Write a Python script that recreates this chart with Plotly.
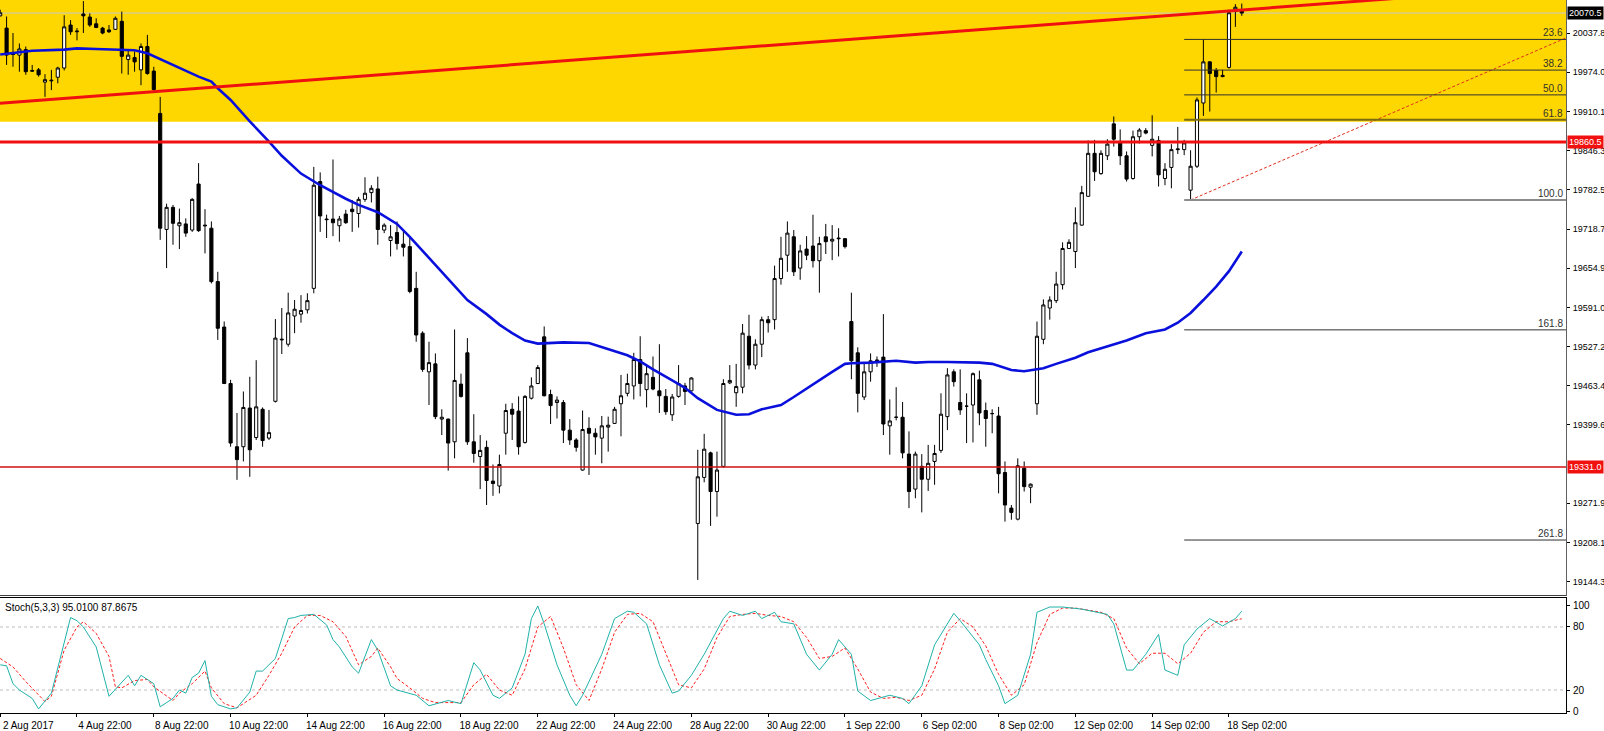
import plotly.graph_objects as go

# ---------------- data (H4 bars, index 0..194) ----------------
OPEN = [20066, 20046, 20005, 20002, 20011, 19977, 19978, 19958, 19960, 19966,
        19981, 20051, 20040, 20069, 20064, 20053, 20046, 20043, 20044, 20057,
        19995, 19998, 19978, 20016, 19976, 19907, 19718, 19754, 19724, 19727,
        19717, 19792, 19725, 19720, 19633, 19559, 19467, 19364, 19364, 19427,
        19379, 19425, 19378, 19438, 19538, 19531, 19577, 19580, 19587, 19622,
        19796, 19735, 19735, 19724, 19743, 19751, 19744, 19767, 19778, 19784,
        19717, 19700, 19713, 19694, 19690, 19622, 19549, 19486, 19499, 19409,
        19409, 19372, 19466, 19517, 19372, 19348, 19363, 19308, 19300, 19386,
        19425, 19422, 19371, 19443, 19467, 19543, 19449, 19436, 19436, 19391,
        19375, 19326, 19394, 19386, 19378, 19396, 19402, 19434, 19451, 19463,
        19506, 19457, 19477, 19455, 19446, 19416, 19446, 19463, 19455, 19239,
        19314, 19354, 19291, 19332, 19468, 19452, 19461, 19544, 19497, 19531,
        19571, 19571, 19638, 19676, 19706, 19655, 19686, 19691, 19667, 19706,
        19699, 19704, 19703, 19568, 19517, 19445, 19486, 19504, 19510, 19398,
        19412, 19412, 19352, 19295, 19332, 19311, 19340, 19358, 19413, 19486,
        19436, 19430, 19432, 19473, 19423, 19418, 19414, 19322, 19264, 19246,
        19329, 19298, 19434, 19539, 19590, 19602, 19628, 19687, 19682, 19725,
        19772, 19842, 19809, 19838, 19890, 19861, 19838, 19801, 19869, 19879,
        19855, 19863, 19801, 19819, 19848, 19848, 19782, 19821, 19924, 19991,
        19977, 19969, 19982, 20073, 20075]
HIGH = [20076, 20065, 20038, 20021, 20016, 19986, 19981, 19971, 19978, 19983,
        20067, 20059, 20046, 20090, 20070, 20062, 20048, 20051, 20065, 20073,
        20010, 20008, 20021, 20035, 19983, 19934, 19760, 19758, 19752, 19736,
        19769, 19826, 19751, 19731, 19649, 19568, 19473, 19419, 19454, 19478,
        19505, 19428, 19424, 19572, 19590, 19615, 19603, 19611, 19614, 19820,
        19811, 19742, 19832, 19740, 19750, 19766, 19771, 19803, 19790, 19804,
        19728, 19725, 19731, 19717, 19706, 19649, 19552, 19535, 19516, 19425,
        19410, 19555, 19483, 19541, 19417, 19383, 19374, 19335, 19351, 19434,
        19435, 19446, 19448, 19477, 19497, 19560, 19457, 19446, 19440, 19409,
        19378, 19423, 19412, 19394, 19414, 19413, 19429, 19481, 19483, 19517,
        19544, 19497, 19511, 19531, 19458, 19450, 19497, 19468, 19477, 19359,
        19385, 19356, 19356, 19474, 19497, 19499, 19564, 19579, 19539, 19576,
        19577, 19659, 19706, 19731, 19717, 19693, 19707, 19742, 19706, 19727,
        19725, 19720, 19704, 19615, 19526, 19501, 19516, 19511, 19580, 19441,
        19461, 19437, 19389, 19356, 19352, 19367, 19367, 19451, 19492, 19490,
        19490, 19451, 19485, 19488, 19436, 19425, 19429, 19340, 19269, 19345,
        19340, 19304, 19568, 19604, 19609, 19649, 19697, 19702, 19754, 19789,
        19863, 19864, 19847, 19865, 19902, 19881, 19845, 19879, 19883, 19883,
        19904, 19870, 19826, 19857, 19885, 19864, 19847, 19933, 20028, 19992,
        19981, 19978, 20076, 20085, 20086]
LOW = [20065, 19986, 19983, 19975, 19970, 19975, 19967, 19934, 19945, 19956,
       19977, 20035, 20026, 20038, 20048, 20046, 20036, 20038, 20043, 19972,
       19970, 19975, 19953, 19970, 19943, 19701, 19655, 19693, 19686, 19706,
       19714, 19714, 19679, 19630, 19538, 19466, 19364, 19310, 19340, 19315,
       19375, 19364, 19375, 19436, 19515, 19527, 19549, 19566, 19581, 19614,
       19714, 19704, 19707, 19698, 19727, 19714, 19721, 19763, 19762, 19693,
       19712, 19674, 19685, 19674, 19614, 19535, 19486, 19432, 19409, 19383,
       19325, 19345, 19444, 19367, 19338, 19295, 19269, 19284, 19288, 19351,
       19375, 19351, 19369, 19441, 19466, 19446, 19401, 19410, 19370, 19367,
       19356, 19325, 19318, 19351, 19337, 19356, 19401, 19381, 19446, 19441,
       19446, 19428, 19456, 19419, 19416, 19406, 19444, 19432, 19454, 19147,
       19306, 19235, 19250, 19330, 19466, 19429, 19451, 19490, 19490, 19510,
       19550, 19555, 19628, 19649, 19642, 19636, 19668, 19656, 19615, 19678,
       19668, 19674, 19687, 19474, 19420, 19440, 19470, 19494, 19383, 19351,
       19407, 19345, 19264, 19280, 19257, 19292, 19302, 19354, 19391, 19462,
       19416, 19370, 19371, 19399, 19364, 19386, 19288, 19242, 19245, 19244,
       19291, 19272, 19416, 19531, 19571, 19598, 19620, 19686, 19655, 19724,
       19771, 19797, 19807, 19831, 19853, 19823, 19796, 19799, 19858, 19873,
       19837, 19788, 19790, 19785, 19841, 19839, 19767, 19818, 19903, 19910,
       19941, 19966, 19980, 20048, 20066]
CLOSE = [20071, 20002, 20003, 20012, 19975, 19976, 19970, 19962, 19961, 19981,
         20048, 20040, 20041, 20066, 20051, 20047, 20038, 20040, 20062, 20000,
         20002, 19991, 20016, 19972, 19946, 19720, 19754, 19728, 19729, 19712,
         19767, 19716, 19724, 19633, 19557, 19467, 19370, 19343, 19428, 19359,
         19429, 19374, 19387, 19541, 19539, 19582, 19588, 19586, 19602, 19790,
         19740, 19734, 19729, 19735, 19729, 19747, 19767, 19777, 19785, 19718,
         19725, 19706, 19695, 19689, 19617, 19546, 19490, 19501, 19413, 19412,
         19370, 19472, 19446, 19372, 19353, 19358, 19309, 19304, 19335, 19423,
         19417, 19364, 19446, 19463, 19493, 19447, 19431, 19440, 19391, 19375,
         19363, 19392, 19386, 19380, 19398, 19399, 19425, 19447, 19467, 19506,
         19467, 19483, 19458, 19447, 19421, 19445, 19467, 19454, 19476, 19315,
         19360, 19291, 19326, 19467, 19472, 19462, 19549, 19497, 19531, 19571,
         19566, 19638, 19671, 19712, 19649, 19683, 19676, 19667, 19695, 19698,
         19702, 19703, 19690, 19504, 19451, 19486, 19504, 19505, 19401, 19406,
         19412, 19354, 19291, 19352, 19311, 19337, 19353, 19417, 19481, 19470,
         19424, 19430, 19483, 19419, 19410, 19418, 19320, 19269, 19257, 19333,
         19299, 19303, 19544, 19595, 19603, 19629, 19687, 19697, 19729, 19778,
         19842, 19812, 19842, 19857, 19865, 19838, 19800, 19869, 19880, 19875,
         19865, 19807, 19816, 19848, 19849, 19859, 19821, 19929, 19991, 19972,
         19967, 19967, 20071, 20080, 20070.5]

# blue moving average, read at these bars
MA_BAR = [0, 2, 5, 10, 12, 15, 19, 21, 23, 27, 31, 33, 34, 36, 39, 42, 44, 47, 49, 50,
          54, 56, 59, 62, 64, 67, 69, 71, 73, 76, 78, 80, 82, 84, 86, 88, 92, 94, 96, 98,
          100, 102, 105, 107, 109, 112, 115, 117, 119, 122, 124, 126, 128, 130, 132, 133,
          136, 139, 140, 143, 145, 148, 151, 153, 155, 158, 160, 163, 165, 168, 170, 173,
          176, 179, 182, 184, 186, 188, 190, 192, 193, 194]
MA_VAL = [20003, 20005, 20009, 20011, 20013, 20012, 20011, 20010, 20005, 19986, 19967, 19959,
          19948, 19929, 19894, 19861, 19838, 19809, 19796, 19790, 19768, 19758, 19746, 19727,
          19706, 19672, 19648, 19627, 19603, 19580, 19563, 19549, 19537, 19532, 19533, 19534,
          19533, 19526, 19519, 19513, 19503, 19490, 19472, 19460, 19443, 19424, 19416, 19417,
          19425, 19432, 19445, 19459, 19473, 19486, 19499, 19500, 19501, 19503, 19504, 19501,
          19502, 19502, 19502, 19501, 19499, 19489, 19487, 19492, 19499, 19509, 19518, 19528,
          19537, 19549, 19555, 19566, 19582, 19603, 19625, 19650, 19665, 19682]

# Stochastic (5,3,3)
K_BAR = [0, 1, 2, 3, 5, 6, 8, 10, 11, 12, 13, 15, 17, 20, 21, 22, 24, 25, 27, 28, 29, 30, 31,
         32, 33, 34, 36, 37, 39, 40, 41, 43, 45, 46, 47, 49, 51, 52, 53, 55, 56, 58, 59, 61,
         62, 65, 67, 70, 72, 74, 75, 77, 78, 80, 82, 83, 84, 85, 87, 89, 90, 91, 94, 96, 98,
         99, 101, 103, 105, 106, 108, 110, 113, 114, 116, 118, 119, 121, 122, 124, 126, 128,
         130, 131, 133, 134, 136, 139, 141, 142, 144, 146, 149, 150, 153, 154, 156, 157, 159,
         161, 162, 164, 166, 169, 173, 174, 176, 177, 179, 181, 182, 184, 185, 187, 189, 191,
         193, 194]
K_VAL = [44, 43, 26, 20, 12, 2, 17, 64, 89, 86, 80, 61, 14, 34, 24, 34, 26, 4, 12, 20, 17, 32, 36,
         48, 14, 6, 2, 3, 18, 38, 38, 50, 88, 89, 91, 92, 82, 68, 61, 42, 36, 68, 58, 24,
         20, 15, 5, 10, 7, 46, 39, 15, 12, 22, 54, 88, 100, 83, 44, 15, 5, 15, 54, 88, 95,
         94, 83, 44, 17, 19, 34, 54, 88, 95, 91, 95, 88, 94, 85, 83, 54, 39,
         54, 68, 54, 19, 10, 15, 12, 7, 24, 63, 93, 86, 63, 49, 24, 7, 15,
         54, 94, 99, 99, 97, 92, 83, 39, 39, 54, 73, 39, 34, 63, 78, 88, 81,
         88, 95.01]
D_BAR = [0, 2, 4, 5, 7, 8, 10, 12, 13, 15, 17, 18, 19, 21, 23, 24, 27, 28, 30, 32, 33, 35, 37,
         40, 42, 44, 46, 48, 50, 52, 54, 56, 58, 59, 61, 62, 64, 66, 68, 70, 72, 74, 76, 78,
         80, 82, 84, 86, 88, 90, 92, 94, 96, 98, 100, 102, 104, 106, 108, 110, 112, 114, 116,
         118, 120, 122, 124, 126, 128, 130, 132, 134, 136, 138, 140, 142, 144, 146, 148, 150,
         152, 154, 156, 158, 160, 162, 164, 166, 168, 170, 172, 174, 176, 178, 180, 182, 184,
         186, 188, 190, 192, 194]
D_VAL = [50, 42, 28, 22, 9, 14, 58, 80, 85, 74, 52, 23, 22, 29, 30, 23, 10, 17, 26, 38, 22, 7, 3,
         15, 34, 55, 80, 91, 91, 85, 71, 44, 52, 60, 42, 31, 22, 12, 8, 8, 8, 25, 35, 20,
         15, 40, 80, 90, 60, 25, 10, 40, 75, 92, 93, 85, 55, 25, 22, 40, 70, 90, 92,
         93, 91, 90, 85, 70, 50, 52, 60, 40, 18, 12, 13, 10, 15, 40, 75, 88,
         80, 62, 35, 15, 25, 65, 92, 98, 98, 96, 94, 88, 60, 45, 55, 55, 45,
         55, 75, 85, 85, 87.87]

TICK_BARS = [0, 12, 24, 36, 48, 60, 72, 84, 96, 108, 120, 132, 144, 156, 168, 180, 192]
TICK_LABELS = ["2 Aug 2017", "4 Aug 22:00", "8 Aug 22:00", "10 Aug 22:00", "14 Aug 22:00",
               "16 Aug 22:00", "18 Aug 22:00", "22 Aug 22:00", "24 Aug 22:00", "28 Aug 22:00",
               "30 Aug 22:00", "1 Sep 22:00", "6 Sep 02:00", "8 Sep 02:00", "12 Sep 02:00",
               "14 Sep 02:00", "18 Sep 02:00"]
# 19335.8 level label is hidden under the 19331.0 line label in the original
PRICE_TICKS = [20037.8, 19974.0, 19910.1, 19846.3, 19782.5, 19718.7, 19654.9, 19591.0,
               19527.2, 19463.4, 19399.6, 19271.9, 19208.1, 19144.3]
STOCH_TICKS = [0, 20, 80, 100]

# chart objects
ZONE_LOW = 19893.5
RESIST = 19860.5
SUPPORT = 19331.0
BID = 20070.5
TREND_BARS = [-0.03, 244.66]
TREND_PRICES = [19923.5, 20115.3]
FIB_HIGH = 20108.4
FIB_LOW = 19766.0
FIB_START = 185
FIB_LEVELS = [23.6, 38.2, 50.0, 61.8, 100.0, 161.8, 261.8]
FIB_DOT_BARS = [186, 244.66]
FIB_DOT_PRICES = [19766.0, 20030.0]
STOCH_TEXT = "Stoch(5,3,3) 95.0100 87.8675"

X_RANGE = [-0.03, 244.66]
Y_RANGE = [19120.8, 20091.8]
S_RANGE = [-1.9, 107.6]

FONT = "Liberation Sans, Arial, sans-serif"
AX_FONT = 9
PLOT_H = 713  # plot-area height in px (figure 731, bottom margin 18)

fig = go.Figure()
bars = list(range(len(OPEN)))

fig.add_trace(go.Candlestick(
    x=bars, open=OPEN, high=HIGH, low=LOW, close=CLOSE,
    increasing=dict(fillcolor="#FFFFFF", line=dict(color="#000000", width=1)),
    decreasing=dict(fillcolor="#000000", line=dict(color="#000000", width=1)),
    whiskerwidth=0, xaxis="x", yaxis="y", showlegend=False, hoverinfo="skip"))

fig.add_trace(go.Scatter(x=MA_BAR, y=MA_VAL, mode="lines", line=dict(color="#0A10DC", width=2.6),
                         xaxis="x", yaxis="y", showlegend=False, hoverinfo="skip"))
fig.add_trace(go.Scatter(x=TREND_BARS, y=TREND_PRICES, mode="lines", line=dict(color="#F01010", width=3),
                         xaxis="x", yaxis="y", showlegend=False, hoverinfo="skip"))
fig.add_trace(go.Scatter(x=FIB_DOT_BARS, y=FIB_DOT_PRICES, mode="lines",
                         line=dict(color="#E03020", width=1, dash="3px,2px"),
                         xaxis="x", yaxis="y", showlegend=False, hoverinfo="skip"))

fig.add_trace(go.Scatter(x=D_BAR, y=D_VAL, mode="lines", line=dict(color="#FF2020", width=1, dash="3px,2px"),
                         xaxis="x", yaxis="y2", showlegend=False, hoverinfo="skip"))
fig.add_trace(go.Scatter(x=K_BAR, y=K_VAL, mode="lines", line=dict(color="#20B2AA", width=1),
                         xaxis="x", yaxis="y2", showlegend=False, hoverinfo="skip"))

shapes = []
# yellow zone
shapes.append(dict(type="rect", xref="x", yref="y", x0=X_RANGE[0], x1=X_RANGE[1], y0=ZONE_LOW, y1=Y_RANGE[1],
                   fillcolor="#FFD700", line=dict(width=0), layer="below"))
# bid line
shapes.append(dict(type="line", xref="x", yref="y", x0=X_RANGE[0], x1=X_RANGE[1], y0=BID, y1=BID,
                   line=dict(color="#C8C8C8", width=1), layer="below"))
# fib levels
for lvl in FIB_LEVELS:
    p = FIB_HIGH - lvl / 100.0 * (FIB_HIGH - FIB_LOW)
    if lvl == 100.0:
        col, w = "#8C8C8C", 2
    elif lvl == 61.8:
        col, w = "#7A6A10", 2
    else:
        col, w = "#303030", 1
    shapes.append(dict(type="line", xref="x", yref="y", x0=FIB_START, x1=X_RANGE[1], y0=p, y1=p,
                       line=dict(color=col, width=w), layer="above"))
# horizontal levels
shapes.append(dict(type="line", xref="x", yref="y", x0=X_RANGE[0], x1=X_RANGE[1], y0=RESIST, y1=RESIST,
                   line=dict(color="#F01010", width=3), layer="above"))
shapes.append(dict(type="line", xref="x", yref="y", x0=X_RANGE[0], x1=X_RANGE[1], y0=SUPPORT, y1=SUPPORT,
                   line=dict(color="#D01010", width=1.3), layer="above"))
# main panel bottom border
shapes.append(dict(type="line", xref="paper", yref="y", x0=0, x1=1, y0=Y_RANGE[0], y1=Y_RANGE[0],
                   line=dict(color="#000000", width=1.5), layer="above"))
# stoch 80/20 levels
for lv in (20, 80):
    shapes.append(dict(type="line", xref="x", yref="y2", x0=X_RANGE[0], x1=X_RANGE[1], y0=lv, y1=lv,
                       line=dict(color="#BDBDBD", width=1, dash="3px,3px"), layer="below"))

annotations = []
for lvl in FIB_LEVELS:
    p = FIB_HIGH - lvl / 100.0 * (FIB_HIGH - FIB_LOW)
    annotations.append(dict(xref="paper", yref="y", x=1, y=p, xanchor="right", yanchor="bottom",
                            xshift=-1, yshift=-1, text=f"{lvl:.1f}", showarrow=False,
                            font=dict(family=FONT, size=10, color="#303030")))
for val, bg in ((RESIST, "#F01010"), (SUPPORT, "#F01010"), (BID, "#000000")):
    annotations.append(dict(xref="paper", yref="y", x=1, y=val, xanchor="left", yanchor="middle",
                            xshift=1, text=f"{val:.1f}", showarrow=False, bgcolor=bg, borderpad=1,
                            font=dict(family=FONT, size=AX_FONT, color="#FFFFFF")))
annotations.append(dict(xref="paper", yref="paper", x=0, y=(PLOT_H - 607) / PLOT_H, xanchor="left",
                        yanchor="middle", xshift=3, text=STOCH_TEXT, showarrow=False,
                        font=dict(family=FONT, size=10, color="#000000")))

xaxis = dict(domain=[0, 1], anchor="y2", range=X_RANGE, tickmode="array", tickvals=TICK_BARS,
             ticktext=TICK_LABELS, ticks="outside", ticklen=3, tickcolor="#000000",
             showline=True, linecolor="#000000", linewidth=1, mirror=True,
             showgrid=False, zeroline=False, rangeslider=dict(visible=False),
             ticklabelshift=28, ticklabelstandoff=0, automargin=False,
             tickfont=dict(family=FONT, size=10, color="#000000"))

fig.update_layout(
    width=1604, height=731,
    margin=dict(l=0, r=38, t=0, b=731 - PLOT_H, autoexpand=False),
    paper_bgcolor="#FFFFFF", plot_bgcolor="#FFFFFF",
    font=dict(family=FONT, size=10, color="#000000"),
    showlegend=False,
    xaxis=xaxis,
    yaxis=dict(domain=[(PLOT_H - 596) / PLOT_H, 1], anchor="x", side="right", range=Y_RANGE,
               tickmode="array", tickvals=PRICE_TICKS, ticktext=[f"{v:.1f}" for v in PRICE_TICKS],
               ticks="outside", ticklen=3, tickcolor="#000000", showline=True, linecolor="#606060",
               linewidth=1, showgrid=False, zeroline=False, automargin=False, ticklabelstandoff=1,
               tickfont=dict(family=FONT, size=AX_FONT, color="#000000")),
    yaxis2=dict(domain=[0, (PLOT_H - 598) / PLOT_H], anchor="x", side="right", range=S_RANGE,
                tickmode="array", tickvals=STOCH_TICKS, ticktext=[str(v) for v in STOCH_TICKS],
                ticks="outside", ticklen=3, tickcolor="#000000", showline=True, linecolor="#000000",
                linewidth=1, mirror=True, showgrid=False, zeroline=False, automargin=False,
                ticklabelstandoff=1, tickfont=dict(family=FONT, size=10, color="#000000")),
    shapes=shapes, annotations=annotations,
)

fig.write_html("out.html", config={"displayModeBar": False},
               post_script="document.body.style.margin='0';document.body.style.overflow='hidden';")
